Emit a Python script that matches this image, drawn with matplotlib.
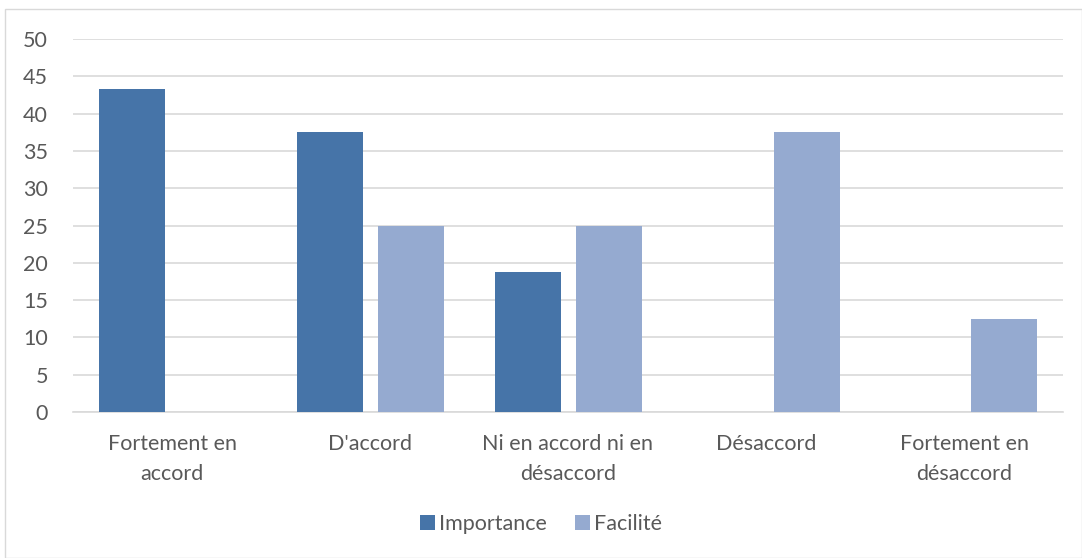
import numpy as np
import matplotlib
matplotlib.use('Agg')
import matplotlib.pyplot as plt
from matplotlib.patches import Rectangle

categories = ['Fortement en\naccord', "D'accord", 'Ni en accord ni en\ndésaccord',
              'Désaccord', 'Fortement en\ndésaccord']
importance = [43.3, 37.5, 18.75, 0, 0]
facilite = [0, 25, 25, 37.5, 12.5]
yticks = [0, 5, 10, 15, 20, 25, 30, 35, 40, 45, 50]

plt.rcParams['font.family'] = ['Lato', 'DejaVu Sans']
txt = '#595959'

fig = plt.figure(figsize=(10.82, 5.58), dpi=100)
ax = fig.add_axes([73 / 1082, 1 - 412 / 558, 990 / 1082, 373 / 558])

x = np.arange(len(categories))
w = 66 / 198
off = 40.5 / 198
ax.bar(x - off, importance, w, color='#4674A8', label='Importance', zorder=3)
ax.bar(x + off, facilite, w, color='#95AAD0', label='Facilité', zorder=3)

ax.set_xlim(-0.5, len(categories) - 0.5)
ax.set_ylim(0, 50)
ax.set_yticks(yticks)
ax.set_xticks(x)
ax.set_xticklabels(categories, linespacing=1.6)
ax.tick_params(axis='both', length=0, labelsize=15.5, colors=txt)
ax.tick_params(axis='x', pad=16)
ax.tick_params(axis='y', pad=18)
ax.grid(axis='y', color='#D9D9D9', linewidth=1.2, zorder=0)
for s in ['top', 'right', 'left']:
    ax.spines[s].set_visible(False)
ax.spines['bottom'].set_color('#D9D9D9')
ax.spines['bottom'].set_linewidth(1.2)

leg = fig.legend(loc='center', bbox_to_anchor=(0.5, 1 - 524 / 558), ncol=2, frameon=False,
                 fontsize=15.5, handlelength=0.7, handleheight=0.7, handletextpad=0.2,
                 columnspacing=1.3)
for t in leg.get_texts():
    t.set_color(txt)

fig.patches.append(Rectangle((5 / 1082, 0), 1 - 5 / 1082, 1 - 9 / 558, transform=fig.transFigure,
                             fill=False, edgecolor='#D9D9D9', linewidth=1))

fig.savefig('out.png')
